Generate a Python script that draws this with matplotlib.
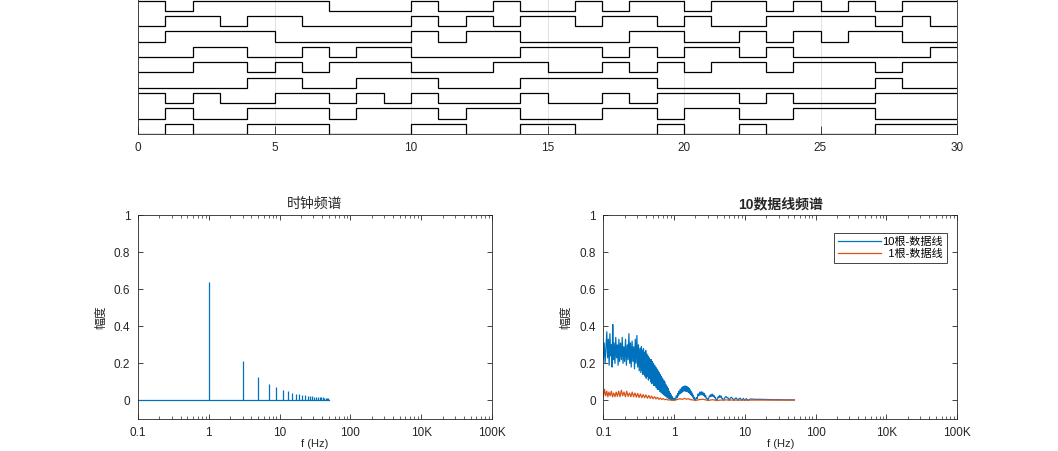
import numpy as np
import matplotlib
matplotlib.use('Agg')
import matplotlib.pyplot as plt
from matplotlib import ticker

plt.rcParams['font.family'] = ['Liberation Sans', 'Noto Sans CJK SC']
plt.rcParams['axes.unicode_minus'] = False

# bit streams (one value per second, 0..30 s), bottom trace first
d1 = [0,1,0,0,1,1,1,0,0,0,1,1,0,0,1,1,0,0,0,1,0,0,1,0,0,0,0,1,1,1]
d2 = [0,1,0,0,1,1,1,0,1,1,1,0,1,1,0,0,0,1,1,0,1,1,0,0,1,1,1,0,0,0]
d3 = [1,0,1,0,0,1,1,0,1,0,1,0,0,0,1,0,0,1,0,1,1,1,0,1,0,0,0,1,1,1]
d4 = [0,0,0,0,1,1,0,0,1,1,1,0,0,0,1,1,1,1,1,0,0,0,0,0,0,0,0,1,0,0]
d5 = [0,0,1,1,0,1,0,1,1,1,0,0,0,1,1,0,0,1,0,1,0,1,1,0,1,1,1,0,1,1]
d6 = [0,0,1,1,0,0,1,0,1,1,0,0,0,0,1,1,1,0,1,0,1,1,0,1,0,0,0,0,0,1]
d7 = [0,1,1,1,1,0,0,0,0,0,1,0,1,1,0,0,0,0,1,1,0,0,1,0,1,0,1,1,0,0]
d8 = [0,1,1,0,1,1,0,0,0,0,1,0,1,0,1,1,0,1,1,0,1,0,0,1,1,1,1,0,1,0]
d9 = [1,0,1,1,1,1,1,0,0,0,1,0,0,1,0,0,1,0,1,1,0,1,1,0,1,0,1,0,1,1]
traces = [d1, d2, d3, d4, d5, d6, d7, d8, d9]
trace_offset = 1.5

# clock spectrum (odd harmonics)
clk_f = [1,3,5,7,9,11,13,15,17,19,21,23,25,27,29,31,33,35,37,39,41,43,45,47,49]
clk_a = [0.637,0.212,0.127,0.091,0.071,0.058,0.049,0.042,0.037,0.034,0.030,0.028,
         0.025,0.024,0.022,0.021,0.019,0.018,0.017,0.016,0.016,0.015,0.014,0.014,0.013]
f_lo, f_hi = 0.1, 50

# 10 data lines spectrum
blue_f = [0.100,0.103,0.106,0.109,0.112,0.115,0.118,0.121,0.124,0.127,0.130,0.133,0.136,0.139,
          0.142,0.146,0.150,0.154,0.158,0.162,0.166,0.170,0.175,0.180,0.185,0.190,0.195,0.200,
          0.206,0.212,0.218,0.224,0.230,0.236,0.242,0.248,0.255,0.262,0.269,0.276,0.283,0.290,
          0.298,0.306,0.314,0.322,0.330,
          0.339,0.345,0.351,0.357,0.363,0.369,0.376,0.383,0.390,0.397,0.404,0.411,0.418,
          0.426,0.434,0.442,0.450,0.458,0.466,0.475,0.484,0.493,0.502,0.511,0.520,
          0.530,0.540,0.550,0.560,0.570,0.581,0.592,0.603,0.614,0.625,0.637,0.649,0.661,0.673,0.685,
          0.698,0.711,0.724,0.737,0.750,0.764,0.778,0.792,0.806,0.820,0.835,0.850,0.865,0.880,0.895,
          0.911,0.927,0.943,0.959,0.975,0.991,1.000,
          1.025,1.05,1.075,1.10,1.125,1.15,1.175,1.20,1.225,1.25,1.275,1.30,1.325,1.35,1.375,1.40,
          1.425,1.45,1.475,1.50,1.525,1.55,1.575,1.60,1.625,1.65,1.675,1.70,1.725,1.75,1.775,1.80,
          1.825,1.85,1.875,1.90,1.925,1.95,1.975,2.00,
          2.06,2.12,2.18,2.24,2.30,2.36,2.42,2.48,2.54,2.60,2.66,2.72,2.78,2.84,2.92,3.00,
          3.08,3.16,3.24,3.32,3.40,3.48,3.56,3.64,3.72,3.80,3.90,4.00,
          4.1,4.2,4.3,4.4,4.5,4.6,4.7,4.8,5.0,
          5.15,5.3,5.45,5.6,5.75,6.0,
          6.2,6.4,6.6,6.8,7.0,
          7.25,7.5,7.75,8.0,
          8.3,8.6,9.0,9.5,10.0,
          10.5,11.0,12.0,14.0,17.0,20.0,25.0,30.0,40.0,50.0]
blue_a = [0.22,0.31,0.20,0.29,0.37,0.23,0.33,0.19,0.36,0.24,0.30,0.18,0.41,0.22,
          0.31,0.20,0.34,0.23,0.30,0.19,0.33,0.21,0.31,0.22,0.34,0.20,0.29,0.21,
          0.33,0.19,0.30,0.22,0.36,0.20,0.31,0.18,0.32,0.21,0.29,0.17,0.33,0.20,
          0.35,0.18,0.30,0.16,0.28,
          0.15,0.29,0.16,0.27,0.14,0.28,0.15,0.26,0.13,0.27,0.12,0.25,0.13,
          0.24,0.11,0.23,0.12,0.22,0.10,0.22,0.09,0.21,0.10,0.20,0.08,
          0.19,0.08,0.18,0.07,0.17,0.06,0.16,0.06,0.15,0.05,0.14,0.045,0.13,0.04,0.12,
          0.035,0.11,0.03,0.10,0.025,0.085,0.02,0.075,0.015,0.065,0.012,0.05,0.01,0.04,0.006,
          0.03,0.004,0.02,0.002,0.012,0.003,0.0,
          0.012,0.006,0.025,0.015,0.038,0.025,0.05,0.035,0.06,0.04,0.068,0.045,0.073,0.05,0.076,0.052,
          0.078,0.05,0.077,0.05,0.074,0.047,0.07,0.044,0.065,0.04,0.058,0.035,0.05,0.03,0.042,0.024,
          0.033,0.017,0.024,0.01,0.015,0.005,0.006,0.0,
          0.015,0.01,0.035,0.025,0.045,0.03,0.047,0.03,0.045,0.027,0.038,0.02,0.028,0.01,0.012,0.0,
          0.012,0.025,0.02,0.033,0.022,0.034,0.022,0.028,0.015,0.018,0.005,0.0,
          0.01,0.02,0.015,0.026,0.018,0.024,0.012,0.012,0.0,
          0.012,0.018,0.021,0.014,0.015,0.0,
          0.012,0.017,0.013,0.008,0.0,
          0.01,0.014,0.008,0.0,
          0.01,0.012,0.0,0.011,0.0,
          0.01,0.0,0.008,0.006,0.006,0.005,0.004,0.004,0.003,0.003]

# 1 data line spectrum
orange_f = [0.100,0.104,0.108,0.112,0.116,0.120,0.125,0.130,0.135,0.140,0.146,0.152,0.158,0.165,
            0.172,0.180,0.188,0.196,0.205,0.214,0.224,0.234,0.245,0.256,0.268,0.280,0.293,0.306,
            0.320,0.335,0.350,0.366,0.383,0.400,0.420,0.440,0.460,0.482,0.505,0.530,0.555,0.58,
            0.61,0.64,0.67,0.70,0.74,0.78,0.82,0.86,0.90,0.95,1.0,
            1.1,1.2,1.3,1.4,1.5,1.6,1.7,1.85,2.0,2.3,2.6,3.0,3.5,4.0,5.0,7.0,10.0,20.0,50.0]
orange_a = [0.02,0.06,0.025,0.05,0.02,0.045,0.025,0.05,0.02,0.04,0.02,0.045,0.022,0.05,
            0.02,0.055,0.025,0.045,0.02,0.05,0.022,0.04,0.02,0.045,0.02,0.04,0.018,0.038,
            0.016,0.035,0.015,0.032,0.014,0.03,0.012,0.027,0.011,0.024,0.009,0.02,0.008,0.017,
            0.006,0.013,0.005,0.01,0.004,0.007,0.002,0.004,0.001,0.002,0.0,
            0.005,0.009,0.006,0.011,0.007,0.009,0.004,0.003,0.0,0.005,0.006,0.0,0.004,0.0,
            0.003,0.002,0.002,0.002,0.002]

x_ticks = [0.1, 1, 10, 100, 1000, 10000]
x_ticklabels = ['0.1', '1', '10', '100', '10K', '100K']
y_ticks = [0, 0.2, 0.4, 0.6, 0.8, 1]
y_ticklabels = ['0', '0.2', '0.4', '0.6', '0.8', '1']

blue = '#0072BD'
orange = '#D95319'
axc = '#262626'

fig = plt.figure(figsize=(10.58, 4.51), dpi=100)

# top: waveforms
ax0 = fig.add_axes([138/1058, 1 - 134/451, 819/1058, 153.8/451])
edges = np.arange(len(d1) + 1)
for k, d in enumerate(traces):
    ax0.stairs(np.array(d) + trace_offset * k, edges, baseline=None, color='k', lw=0.9)
ax0.set_xlim(0, 30)
ax0.set_ylim(0, 15)
ax0.set_xticks(range(0, 31, 5))
ax0.set_yticks([])
ax0.grid(axis='x', color='#dcdcdc', lw=0.6)
ax0.set_axisbelow(True)
ax0.tick_params(axis='x', direction='in', length=6, width=0.6, color=axc,
                labelcolor=axc, labelsize=8.5, pad=6, top=True)
for s in ax0.spines.values():
    s.set_color(axc)
    s.set_linewidth(0.6)


def spec_axes(ax):
    ax.set_xscale('log')
    ax.set_xlim(0.1, 1e4)
    ax.set_ylim(-0.1, 1)
    ax.set_xticks(x_ticks)
    ax.set_xticklabels(x_ticklabels)
    ax.xaxis.set_minor_locator(ticker.LogLocator(base=10, subs=np.arange(2, 10), numticks=20))
    ax.xaxis.set_minor_formatter(ticker.NullFormatter())
    ax.set_yticks(y_ticks)
    ax.set_yticklabels(y_ticklabels)
    ax.tick_params(which='major', direction='in', length=3.5, width=0.6, color=axc,
                   labelcolor=axc, labelsize=8.5, top=True, right=True, pad=5.5)
    ax.tick_params(which='minor', direction='in', length=2, width=0.5, color=axc,
                   top=True, right=True)
    for s in ax.spines.values():
        s.set_color(axc)
        s.set_linewidth(0.6)
    ax.set_xlabel('f (Hz)', fontsize=8, color=axc, labelpad=0.5)
    ax.set_ylabel('幅度', fontsize=8.5, color=axc, labelpad=5)


# bottom left: clock spectrum
ax1 = fig.add_axes([138/1058, 32/451, 354/1058, 204/451])
ax1.plot([f_lo, f_hi], [0, 0], color=blue, lw=0.9)
ax1.vlines(clk_f, 0, clk_a, color=blue, lw=0.9)
spec_axes(ax1)
ax1.set_title('时钟频谱', fontsize=10, color=axc, pad=5)

# bottom right: data line spectrum
ax2 = fig.add_axes([603.3/1058, 32/451, 354/1058, 204/451])
ax2.plot(blue_f, blue_a, color=blue, lw=0.9, label='10根-数据线')
ax2.plot(orange_f, orange_a, color=orange, lw=0.9, label='  1根-数据线')
spec_axes(ax2)
ax2.set_title('10数据线频谱', fontsize=10, color=axc, fontweight='bold', pad=5)
leg = ax2.legend(loc='upper right', bbox_to_anchor=(0.971, 0.912), borderaxespad=0,
                 fontsize=8, handlelength=3.9, handletextpad=0.1, borderpad=0.35,
                 labelspacing=0.2, fancybox=False, framealpha=1, edgecolor=axc)
leg.get_frame().set_linewidth(0.6)

fig.savefig('out.png', dpi=100)
